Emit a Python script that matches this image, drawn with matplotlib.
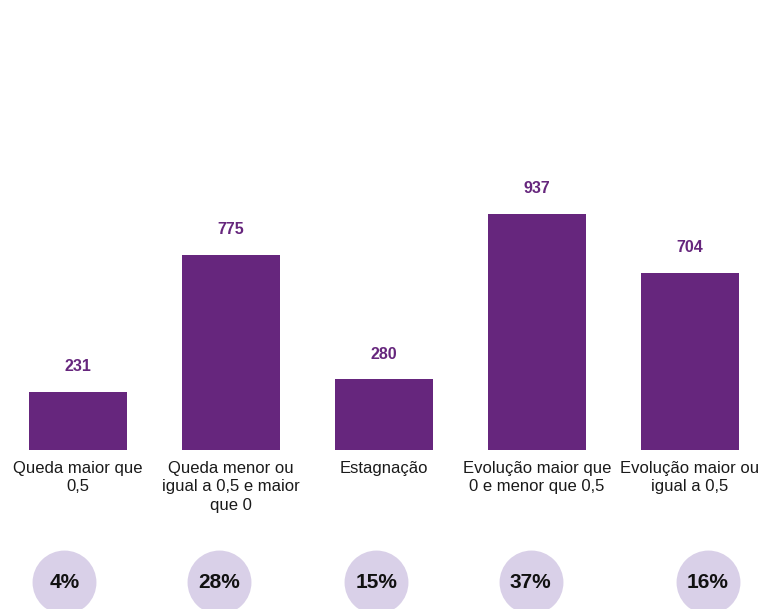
import matplotlib
matplotlib.use("Agg")
import matplotlib.pyplot as plt

# dados
categorias = ["Queda maior que\n0,5",
              "Queda menor ou\nigual a 0,5 e maior\nque 0",
              "Estagnação",
              "Evolução maior que\n0 e menor que 0,5",
              "Evolução maior ou\nigual a 0,5"]
valores = [231, 775, 280, 937, 704]
percentuais = [4, 28, 15, 37, 16]

# posições dos círculos (em unidades do eixo x)
circ_x = [-0.09, 0.92, 1.95, 2.96, 4.12]

roxo = "#66267d"
lilas = "#d9d0e8"

plt.rcParams['font.family'] = ['Liberation Sans', 'DejaVu Sans']

fig = plt.figure(figsize=(7.61, 6.09), dpi=100)
ax = fig.add_axes([0, 159 / 609, 1, 252 / 609])

x = list(range(len(valores)))
ax.bar(x, valores, width=0.64, color=roxo)
ax.set_xlim(-78 / 152.9, (761 - 78) / 152.9)
ax.set_ylim(0, 1000)

for xi, v in zip(x, valores):
    ax.annotate(str(v), (xi, v), xytext=(0, 18), textcoords="offset points",
                ha="center", va="center", fontsize=11.5, fontweight="bold",
                color=roxo)

ax.set_xticks(x)
ax.set_xticklabels(categorias, fontsize=12, color="#1a1a1a", linespacing=1.28)
ax.tick_params(axis="x", length=0, pad=8)
ax.set_yticks([])
for s in ax.spines.values():
    s.set_visible(False)

# círculos com percentuais
yc = (27 - 159) / 0.252
ax.scatter(circ_x, [yc] * len(circ_x), s=2116, color=lilas, clip_on=False,
           linewidths=0, zorder=2)
for cx, p in zip(circ_x, percentuais):
    ax.text(cx, yc, f"{p}%", ha="center", va="center", fontsize=15,
            fontweight="bold", color="#111111", clip_on=False, zorder=3)

fig.savefig("out.png", dpi=100, facecolor="white")
